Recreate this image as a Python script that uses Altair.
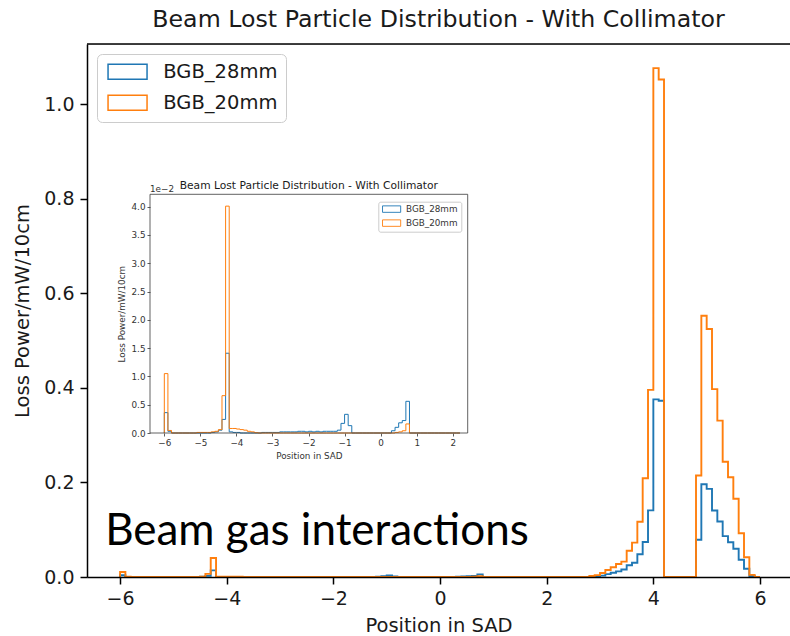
import altair as alt
import pandas as pd

# ---------------- data ----------------
SERIES = ["BGB_28mm", "BGB_20mm"]
COLORS = ["#1f77b4", "#ff7f0e"]

HIST_START = -6.0      # histogram range
HIST_END = 6.0
INSET_END = 2.2        # inset histogram range end
BIN_WIDTH = 0.1

# BGB_28mm: left bin edge -> loss power (mW/10cm)
BLUE_LEFT = [-6.0, -5.9, -4.7, -4.6, -4.5, -4.4, -4.3, -4.2, -4.1, -4.0,
             -3.3, -3.2, -3.1, -3.0, -2.9, -2.8, -2.7, -2.6, -2.5, -2.4, -2.3, -2.2, -2.1,
             -2.0, -1.9, -1.8, -1.7, -1.6, -1.5, -1.4, -1.3, -1.2, -1.1, -1.0, -0.9,
             0.3, 0.4, 0.5, 0.6, 0.7,
             2.9, 3.0, 3.1, 3.2, 3.3, 3.4, 3.5, 3.6, 3.7, 3.8, 3.9, 4.0, 4.1,
             4.8, 4.9, 5.0, 5.1, 5.2, 5.3, 5.4, 5.5, 5.6, 5.7, 5.8]
BLUE_H = [0.0036, 0.0003, 0.0001, 0.0002, 0.0005, 0.0024, 0.0141, 0.0002, 0.0001, 0.0001,
          0.0001, 0.0001, 0.0001, 0.0001, 0.0001, 0.0002, 0.0002, 0.0002, 0.0002, 0.0002, 0.0003, 0.0003, 0.0002,
          0.0003, 0.0002, 0.0003, 0.0002, 0.0003, 0.0003, 0.0003, 0.0003, 0.0005, 0.0017, 0.0033, 0.0013,
          0.0004, 0.0010, 0.0018, 0.0022, 0.0056,
          0.001, 0.003, 0.006, 0.009, 0.012, 0.016, 0.025, 0.030, 0.048, 0.074, 0.141, 0.376, 0.373,
          0.0787, 0.1964, 0.1866, 0.1407, 0.1175, 0.0864, 0.0737, 0.0597, 0.0364, 0.0174, 0.002]

# BGB_20mm
ORANGE_LEFT = [-6.0, -5.9, -5.1, -5.0, -4.9, -4.8, -4.7, -4.6, -4.5, -4.4, -4.3, -4.2, -4.1, -4.0,
               -3.9, -3.8, -3.7, -3.6, -3.5,
               0.4, 0.5, 0.6, 0.7,
               2.8, 2.9, 3.0, 3.1, 3.2, 3.3, 3.4, 3.5, 3.6, 3.7, 3.8, 3.9, 4.0, 4.1,
               4.8, 4.9, 5.0, 5.1, 5.2, 5.3, 5.4, 5.5, 5.6, 5.7, 5.8]
ORANGE_H = [0.0105, 0.00045, 0.0001, 0.0001, 0.0001, 0.0001, 0.0002, 0.0003, 0.0006, 0.0066, 0.0401,
            0.0008, 0.0008, 0.0007, 0.0006, 0.0005, 0.0003, 0.0002, 0.00005,
            0.0001, 0.0002, 0.0004, 0.0016,
            0.002, 0.004, 0.0085, 0.0148, 0.0205, 0.0275, 0.0325, 0.0557, 0.0727, 0.117, 0.209, 0.396, 1.077, 1.053,
            0.2148, 0.553, 0.525, 0.3975, 0.331, 0.244, 0.211, 0.1655, 0.0927, 0.0419, 0.0046]

TITLE = "Beam Lost Particle Distribution - With Collimator"
X_TITLE = "Position in SAD"
Y_TITLE = "Loss Power/mW/10cm"
ANNOTATION = "Beam gas interactions"

MAIN_X_DOMAIN = [-6.62, 6.5625]
MAIN_Y_DOMAIN = [0, 1.128]
MAIN_X_TICKS = [-6, -4, -2, 0, 2, 4, 6]
MAIN_Y_TICKS = [0.0, 0.2, 0.4, 0.6, 0.8, 1.0]

INSET_SCALE = 100          # inset shown in units of 1e-2
INSET_X_DOMAIN = [-6.397, 2.415]
INSET_Y_DOMAIN = [0, 4.219]
INSET_X_TICKS = [-6, -5, -4, -3, -2, -1, 0, 1, 2]
INSET_Y_TICKS = [0.0, 0.5, 1.0, 1.5, 2.0, 2.5, 3.0, 3.5, 4.0]
ANNOT_POS = (-6.28, 0.0667)

# ---------------- build step outlines ----------------
def step_rows(lefts, heights, end, name, factor):
    n = int(round((end - HIST_START) / BIN_WIDTH))
    h = [0.0] * n
    for l, v in zip(lefts, heights):
        k = int(round((l - HIST_START) / BIN_WIDTH))
        if 0 <= k < n:
            h[k] = v * factor
    edges = [round(HIST_START + i * BIN_WIDTH, 4) for i in range(n + 1)]
    rows = [{"x": edges[0], "y": 0.0, "i": 0, "series": name}]
    for k in range(n):
        rows.append({"x": edges[k], "y": h[k], "i": k + 1, "series": name})
    rows.append({"x": edges[n], "y": 0.0, "i": n + 1, "series": name})
    return rows

main_df = pd.DataFrame(step_rows(BLUE_LEFT, BLUE_H, HIST_END, SERIES[0], 1)
                       + step_rows(ORANGE_LEFT, ORANGE_H, HIST_END, SERIES[1], 1))
inset_df = pd.DataFrame(step_rows(BLUE_LEFT, BLUE_H, INSET_END, SERIES[0], INSET_SCALE)
                        + step_rows(ORANGE_LEFT, ORANGE_H, INSET_END, SERIES[1], INSET_SCALE))
one_row = pd.DataFrame({"k": [0]})

FONT = "DejaVu Sans"
MINUS = "replace(datum.label, '-', '\u2212')"
TXT = "#1a1a1a"

# ---------------- main plot ----------------
mx_scale = alt.Scale(domain=MAIN_X_DOMAIN, nice=False, zero=False)
my_scale = alt.Scale(domain=MAIN_Y_DOMAIN, nice=False, zero=False)
main_x_axis = alt.Axis(values=MAIN_X_TICKS, labelExpr=MINUS, format="d", title=X_TITLE, grid=False,
                       domainColor="black", domainWidth=1.5, tickColor="black", tickWidth=1.5,
                       tickSize=7, labelFont=FONT, labelFontSize=19, labelColor=TXT, labelPadding=5,
                       titleFont=FONT, titleFontSize=19.5, titleFontWeight="normal", titleColor=TXT,
                       titlePadding=8, zindex=1, labelFlush=False)
main_y_axis = alt.Axis(values=MAIN_Y_TICKS, format=".1f", title=Y_TITLE, grid=False,
                       domainColor="black", domainWidth=1.5, tickColor="black", tickWidth=1.5,
                       tickSize=7, labelFont=FONT, labelFontSize=19, labelColor=TXT, labelPadding=6,
                       titleFont=FONT, titleFontSize=19.5, titleFontWeight="normal", titleColor=TXT,
                       titlePadding=11, zindex=1, labelFlush=False)

main_lines = alt.Chart(main_df).mark_line(interpolate="step-after", strokeWidth=1.9).encode(
    x=alt.X("x:Q", scale=mx_scale, axis=main_x_axis),
    y=alt.Y("y:Q", scale=my_scale, axis=main_y_axis),
    color=alt.Color("series:N", scale=alt.Scale(domain=SERIES, range=COLORS),
                    legend=alt.Legend(title=None, orient="none", legendX=10, legendY=10,
                                      symbolType="M-2.6,-1H2.6V1H-2.6Z", symbolSize=225,
                                      symbolOffset=12.8,
                                      symbolStrokeWidth=1.5, symbolFillColor="transparent",
                                      labelFont=FONT, labelFontSize=19.5, labelColor=TXT,
                                      labelOffset=26, rowPadding=9, padding=8,
                                      fillColor="white", strokeColor="#cccccc", cornerRadius=5)),
    order=alt.Order("i:Q"),
)

top_spine = alt.Chart(one_row).mark_rule(color="black", strokeWidth=1.5).encode(
    y=alt.Y(datum=MAIN_Y_DOMAIN[1], scale=my_scale)
)

main_title = alt.Chart(one_row).mark_text(
    text=TITLE, align="center", baseline="alphabetic", font=FONT, fontSize=23.7, color=TXT, dy=-17
).encode(
    x=alt.X(datum=(MAIN_X_DOMAIN[0] + MAIN_X_DOMAIN[1]) / 2, scale=mx_scale),
    y=alt.Y(datum=MAIN_Y_DOMAIN[1], scale=my_scale),
)

annotation = alt.Chart(one_row).mark_text(
    text=ANNOTATION, align="left", baseline="alphabetic", font="Lato", fontSize=44, color="black"
).encode(
    x=alt.X(datum=ANNOT_POS[0], scale=mx_scale),
    y=alt.Y(datum=ANNOT_POS[1], scale=my_scale),
)

main = alt.layer(main_lines, top_spine, main_title, annotation)

# ---------------- inset ----------------
ix_scale = alt.Scale(domain=INSET_X_DOMAIN, range=[63, 380.7], nice=False, zero=False)
iy_scale = alt.Scale(domain=INSET_Y_DOMAIN, range=[389, 150.3], nice=False, zero=False)
ISMALL = 8.8
ITXT = "#333333"
inset_x_axis = alt.Axis(orient="bottom", offset=-144, values=INSET_X_TICKS, labelExpr=MINUS, format="d",
                        title=X_TITLE, grid=False, domain=False, tickColor=ITXT, tickWidth=0.8,
                        tickSize=3, labelFont=FONT, labelFontSize=ISMALL, labelColor=ITXT,
                        labelPadding=2, titleFont=FONT, titleFontSize=ISMALL, titleFontWeight="normal",
                        titleColor=ITXT, titlePadding=5, labelFlush=False)
inset_y_axis = alt.Axis(orient="left", offset=-63, values=INSET_Y_TICKS, format=".1f",
                        title=Y_TITLE, grid=False, domain=False, tickColor=ITXT, tickWidth=0.8,
                        tickSize=3, labelFont=FONT, labelFontSize=ISMALL, labelColor=ITXT,
                        labelPadding=2, titleFont=FONT, titleFontSize=ISMALL, titleFontWeight="normal",
                        titleColor=ITXT, titlePadding=5, labelFlush=False)

inset_lines = alt.Chart(inset_df).mark_line(interpolate="step-after", strokeWidth=1.0).encode(
    x=alt.X("x:Q", scale=ix_scale, axis=inset_x_axis),
    y=alt.Y("y:Q", scale=iy_scale, axis=inset_y_axis),
    color=alt.Color("series:N", scale=alt.Scale(domain=SERIES, range=COLORS),
                    legend=alt.Legend(title=None, orient="none", legendX=291.3, legendY=157.7,
                                      symbolType="M-2.8,-1H2.8V1H-2.8Z", symbolSize=42,
                                      symbolOffset=5.9,
                                      symbolStrokeWidth=0.9, symbolFillColor="transparent",
                                      labelFont=FONT, labelFontSize=ISMALL, labelColor=ITXT,
                                      labelOffset=10, rowPadding=3, padding=3,
                                      fillColor="white", strokeColor="#cccccc", cornerRadius=2)),
    order=alt.Order("i:Q"),
)

inset_frame = alt.Chart(one_row).mark_rect(fillOpacity=0, stroke="#3a3a3a", strokeWidth=0.8).encode(
    x=alt.X(datum=INSET_X_DOMAIN[0], scale=ix_scale),
    x2=alt.X2(datum=INSET_X_DOMAIN[1]),
    y=alt.Y(datum=INSET_Y_DOMAIN[0], scale=iy_scale),
    y2=alt.Y2(datum=INSET_Y_DOMAIN[1]),
)

inset_title = alt.Chart(one_row).mark_text(
    text=TITLE, align="center", baseline="alphabetic", font=FONT, fontSize=10.7, color=TXT, dy=-5
).encode(
    x=alt.X(datum=(INSET_X_DOMAIN[0] + INSET_X_DOMAIN[1]) / 2, scale=ix_scale),
    y=alt.Y(datum=INSET_Y_DOMAIN[1], scale=iy_scale),
)

inset_exp = alt.Chart(one_row).mark_text(
    text="1e\u22122", align="left", baseline="alphabetic", font=FONT, fontSize=ISMALL, color=ITXT, dy=-2
).encode(
    x=alt.X(datum=INSET_X_DOMAIN[0], scale=ix_scale),
    y=alt.Y(datum=INSET_Y_DOMAIN[1], scale=iy_scale),
)

inset = alt.layer(inset_lines, inset_frame, inset_title, inset_exp)

chart = alt.layer(main, inset).resolve_scale(
    x="independent", y="independent", color="independent"
).properties(
    width=703, height=533,
    padding={"left": 87, "top": 44, "right": 0, "bottom": 59},
    autosize=alt.AutoSizeParams(type="none"),
).configure_view(stroke=None).configure(background="white")

chart.save("out.html", embed_options={"renderer": "svg", "actions": False})
